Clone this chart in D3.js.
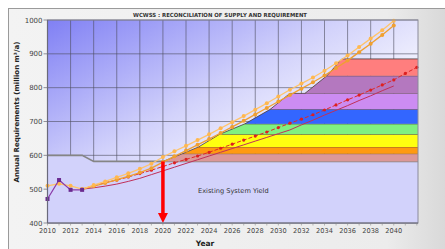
<!DOCTYPE html>
<meta charset="utf-8">
<head>
<style>
  body { margin: 0; background: #fff; }
  text { font-family: "DejaVu Sans", Verdana, sans-serif; }
</style>
</head>
<script src="https://d3js.org/d3.v7.min.js"></script>
<body>
<div id="chart"></div>
</body>
<script>
// ---- data ----
var years = d3.range(2010, 2041);            // yearly points for the requirement curves
var xTicks = d3.range(2010, 2041, 2);
var yTicks = [400, 500, 600, 700, 800, 900, 1000];

// historic actual use (purple squares)
var histYears = [2010, 2011, 2012, 2013];
var histValues = [471, 527, 498, 498];

// high requirement, two close curves (light and dark orange)
var highA = [510, 516, 510, 500, 512, 523, 535, 547, 560, 575, 595, 612, 628, 645, 662, 680,
             698, 716, 735, 754, 774, 794, 812, 830, 850, 872, 895, 920, 945, 970, 998];
var highBYears = d3.range(2013, 2041);
var highB = [500, 509, 518, 528, 538, 549, 562, 580, 597, 614, 631, 648, 666, 684, 702, 721,
             740, 759, 778, 797, 816, 836, 858, 880, 905, 930, 956, 984];

// medium requirement (red dashed with dots)
var medYears = d3.range(2013, 2043);
var medValues = [500, 510, 519, 527, 536, 546, 556, 567, 578, 588, 598, 609, 621, 633, 645,
                 657, 669, 682, 695, 707, 720, 734, 749, 764, 778, 793, 808, 823, 842, 860];

// low requirement (solid dark red)
var lowYears = d3.range(2013, 2041);
var lowValues = [500, 504, 509, 515, 523, 532, 543, 554, 565, 576, 587, 598, 609, 620, 631,
                 642, 653, 664, 675, 690, 704, 719, 733, 747, 762, 776, 791, 805];

// existing system yield
var yieldYears = [2010, 2013, 2014, 2042.1];
var yieldValues = [600, 600, 582, 582];

// augmentation schemes stacked on the yield: start of ramp, full yield year, cumulative top
var bandNames = ["Scheme 1", "Scheme 2", "Scheme 3", "Scheme 4", "Scheme 5", "Scheme 6", "Scheme 7", "Scheme 8"];
var bandStart = [2020, 2021.7, 2023.1, 2024.9, 2027.1, 2029.3, 2032.3, 2034.2];
var bandFull  = [2021.7, 2023.1, 2024.9, 2027.1, 2029.3, 2031.0, 2034.2, 2035.5];
var bandTop   = [605, 625, 662, 693, 736, 783, 835, 885];
var bandFills = ["#dc9898", "#ff9a10", "#ffff10", "#80f080", "#3366ff", "#cc8cf2", "url(#hatch)", "url(#stripes)"];

var arrowYear = 2020;

// ---- layout ----
var W = 445, H = 249;
var margin = {top: 20, right: 27, bottom: 26, left: 47.5};
var width = W - margin.left - margin.right,
    height = H - margin.top - margin.bottom;

var svg = d3.select("#chart").append("svg")
    .attr("width", W).attr("height", H);

var defs = svg.append("defs");
var outerGrad = defs.append("linearGradient").attr("id", "outerGrad");
outerGrad.append("stop").attr("offset", "0").attr("stop-color", "#f3f3f3");
outerGrad.append("stop").attr("offset", "0.85").attr("stop-color", "#ececec");
outerGrad.append("stop").attr("offset", "1").attr("stop-color", "#d6d6d6");

var plotGrad = defs.append("linearGradient").attr("id", "plotGrad")
    .attr("x1", 0).attr("y1", 0).attr("x2", 1).attr("y2", 1);
plotGrad.append("stop").attr("offset", "0").attr("stop-color", "#8080f4");
plotGrad.append("stop").attr("offset", "0.4").attr("stop-color", "#d2d2fb");
plotGrad.append("stop").attr("offset", "0.7").attr("stop-color", "#ffffff");

var hatch = defs.append("pattern").attr("id", "hatch")
    .attr("patternUnits", "userSpaceOnUse").attr("width", 2).attr("height", 2);
hatch.append("rect").attr("width", 2).attr("height", 2).attr("fill", "#dba4e2");
hatch.append("rect").attr("width", 1).attr("height", 1).attr("fill", "#8c4c9c");
hatch.append("rect").attr("x", 1).attr("y", 1).attr("width", 1).attr("height", 1).attr("fill", "#8c4c9c");

var stripes = defs.append("pattern").attr("id", "stripes")
    .attr("patternUnits", "userSpaceOnUse").attr("width", 2).attr("height", 4);
stripes.append("rect").attr("width", 2).attr("height", 4).attr("fill", "#ffb0b0");
stripes.append("rect").attr("width", 1).attr("height", 4).attr("fill", "#ff4c4c");

// outer panel
svg.append("rect")
    .attr("x", 8.5).attr("y", 8.5).attr("width", W).attr("height", H)
    .attr("fill", "url(#outerGrad)").attr("stroke", "#9a9a9a");

// title
svg.append("text")
    .attr("x", 220).attr("y", 16.5)
    .attr("text-anchor", "middle")
    .style("font-size", "5.6px").style("font-weight", "bold").style("fill", "#333")
    .attr("textLength", 174).attr("lengthAdjust", "spacingAndGlyphs")
    .text("WCWSS : RECONCILIATION OF SUPPLY AND REQUIREMENT");

var g = svg.append("g")
    .attr("transform", "translate(" + margin.left + "," + margin.top + ")");

var x = d3.scaleLinear().domain([2010, 2042.1]).range([0, width]);
var y = d3.scaleLinear().domain([400, 1000]).range([height, 0]);

// plot background + grid
g.append("rect").attr("width", width).attr("height", height).attr("fill", "url(#plotGrad)");

g.append("g").selectAll("line").data(xTicks).enter().append("line")
    .attr("x1", function(d) { return x(d); }).attr("x2", function(d) { return x(d); })
    .attr("y1", 0).attr("y2", height)
    .attr("stroke", "#4e4e5e").attr("stroke-width", 0.6);
g.append("g").selectAll("line").data(yTicks).enter().append("line")
    .attr("x1", -4).attr("x2", width)
    .attr("y1", function(d) { return y(d); }).attr("y2", function(d) { return y(d); })
    .attr("stroke", "#4e4e5e").attr("stroke-width", 0.6);

// existing system yield
var yieldPts = yieldYears.map(function(d, i) { return [d, yieldValues[i]]; });
g.append("path")
    .datum(yieldPts)
    .attr("d", d3.area().x(function(d) { return x(d[0]); }).y0(y(400)).y1(function(d) { return y(d[1]); }))
    .attr("fill", "#d2d2fb");
g.append("path")
    .datum(yieldPts)
    .attr("d", d3.line().x(function(d) { return x(d[0]); }).y(function(d) { return y(d[1]); }))
    .attr("fill", "none").attr("stroke", "#858585").attr("stroke-width", 1.6);

g.append("text")
    .attr("x", x(2026.1)).attr("y", y(500) + 4)
    .attr("text-anchor", "middle")
    .style("font-size", "6.6px").style("fill", "#333")
    .text("Existing System Yield");

// stacked schemes
bandNames.forEach(function(name, i) {
  var lower = i === 0 ? yieldValues[yieldValues.length - 1] : bandTop[i - 1];
  var upper = bandTop[i];
  var pts = [[bandStart[i], lower], [bandFull[i], upper], [2042.1, upper], [2042.1, lower]];
  g.append("path")
    .attr("d", d3.line().x(function(d) { return x(d[0]); }).y(function(d) { return y(d[1]); })(pts) + "Z")
    .attr("fill", bandFills[i]);
  g.append("path")
    .attr("d", d3.line().x(function(d) { return x(d[0]); }).y(function(d) { return y(d[1]); })(pts.slice(0, 3)))
    .attr("fill", "none").attr("stroke", "#4a3a3a").attr("stroke-width", 0.8);
});

// requirement curves
var line = d3.line().x(function(d) { return x(d[0]); }).y(function(d) { return y(d[1]); });
function pairs(xs, vs) { return xs.map(function(d, i) { return [d, vs[i]]; }); }

var lowPts = pairs(lowYears, lowValues);
var medPts = pairs(medYears, medValues);
var highAPts = pairs(years, highA);
var highBPts = pairs(highBYears, highB);
var histPts = pairs(histYears, histValues);

g.append("path").datum(lowPts).attr("d", line)
    .attr("fill", "none").attr("stroke", "#c0305a").attr("stroke-width", 1);

g.append("path").datum(medPts).attr("d", line)
    .attr("fill", "none").attr("stroke", "#e02828").attr("stroke-width", 1)
    .attr("stroke-dasharray", "4,2");
g.append("g").selectAll("circle").data(medPts).enter().append("circle")
    .attr("cx", function(d) { return x(d[0]); }).attr("cy", function(d) { return y(d[1]); })
    .attr("r", 1.6).attr("fill", "#dd2020");

g.append("path").datum(highBPts).attr("d", line)
    .attr("fill", "none").attr("stroke", "#f0a030").attr("stroke-width", 1.3);
g.append("g").selectAll("circle").data(highBPts).enter().append("circle")
    .attr("cx", function(d) { return x(d[0]); }).attr("cy", function(d) { return y(d[1]); })
    .attr("r", 2).attr("fill", "#f0a030");

g.append("path").datum(highAPts).attr("d", line)
    .attr("fill", "none").attr("stroke", "#ffc46a").attr("stroke-width", 1.3);
g.append("g").selectAll("circle").data(highAPts).enter().append("circle")
    .attr("cx", function(d) { return x(d[0]); }).attr("cy", function(d) { return y(d[1]); })
    .attr("r", 2).attr("fill", "#ffb850");

g.append("path").datum(histPts).attr("d", line)
    .attr("fill", "none").attr("stroke", "#8a3aa8").attr("stroke-width", 1.2);
g.append("g").selectAll("rect").data(histPts).enter().append("rect")
    .attr("x", function(d) { return x(d[0]) - 2; }).attr("y", function(d) { return y(d[1]) - 2; })
    .attr("width", 4).attr("height", 4).attr("fill", "#6a2a90");

// red arrow at 2020
g.append("line")
    .attr("x1", x(arrowYear)).attr("x2", x(arrowYear))
    .attr("y1", y(582)).attr("y2", y(400) - 9)
    .attr("stroke", "#ff0000").attr("stroke-width", 3.5);
g.append("path")
    .attr("d", "M" + (x(arrowYear) - 5) + "," + (y(400) - 10) + "L" + (x(arrowYear) + 5) + "," + (y(400) - 10) +
               "L" + x(arrowYear) + "," + y(400) + "Z")
    .attr("fill", "#ff0000");

// frame and axes
g.append("rect").attr("width", width).attr("height", height)
    .attr("fill", "none").attr("stroke", "#8a8a9a").attr("stroke-width", 1);
g.append("line").attr("x1", 0).attr("x2", 0).attr("y1", 0).attr("y2", height)
    .attr("stroke", "#6a6a7a").attr("stroke-width", 1.2);
g.append("line").attr("x1", 0).attr("x2", width).attr("y1", height).attr("y2", height)
    .attr("stroke", "#6a6a7a").attr("stroke-width", 1.2);

g.append("g").selectAll("line").data(d3.range(2010, 2043)).enter().append("line")
    .attr("x1", function(d) { return x(d); }).attr("x2", function(d) { return x(d); })
    .attr("y1", height).attr("y2", height + 2.5)
    .attr("stroke", "#8a8a8a").attr("stroke-width", 0.6);

g.append("g").selectAll("text").data(xTicks).enter().append("text")
    .attr("x", function(d) { return x(d); }).attr("y", height + 10)
    .attr("text-anchor", "middle")
    .style("font-size", "6.6px").style("fill", "#444")
    .text(function(d) { return d; });

g.append("g").selectAll("text").data(yTicks).enter().append("text")
    .attr("x", -5).attr("y", function(d) { return y(d) + 2.5; })
    .attr("text-anchor", "end")
    .style("font-size", "7px").style("fill", "#444")
    .text(function(d) { return d; });

svg.append("text")
    .attr("x", 205).attr("y", 246)
    .attr("text-anchor", "middle")
    .style("font-size", "7.5px").style("font-weight", "bold").style("fill", "#222")
    .text("Year");

svg.append("text")
    .attr("transform", "translate(19,112) rotate(-90)")
    .attr("text-anchor", "middle")
    .style("font-size", "7px").style("font-weight", "bold").style("fill", "#222")
    .text("Annual Requirements (million m³/a)");
</script>
